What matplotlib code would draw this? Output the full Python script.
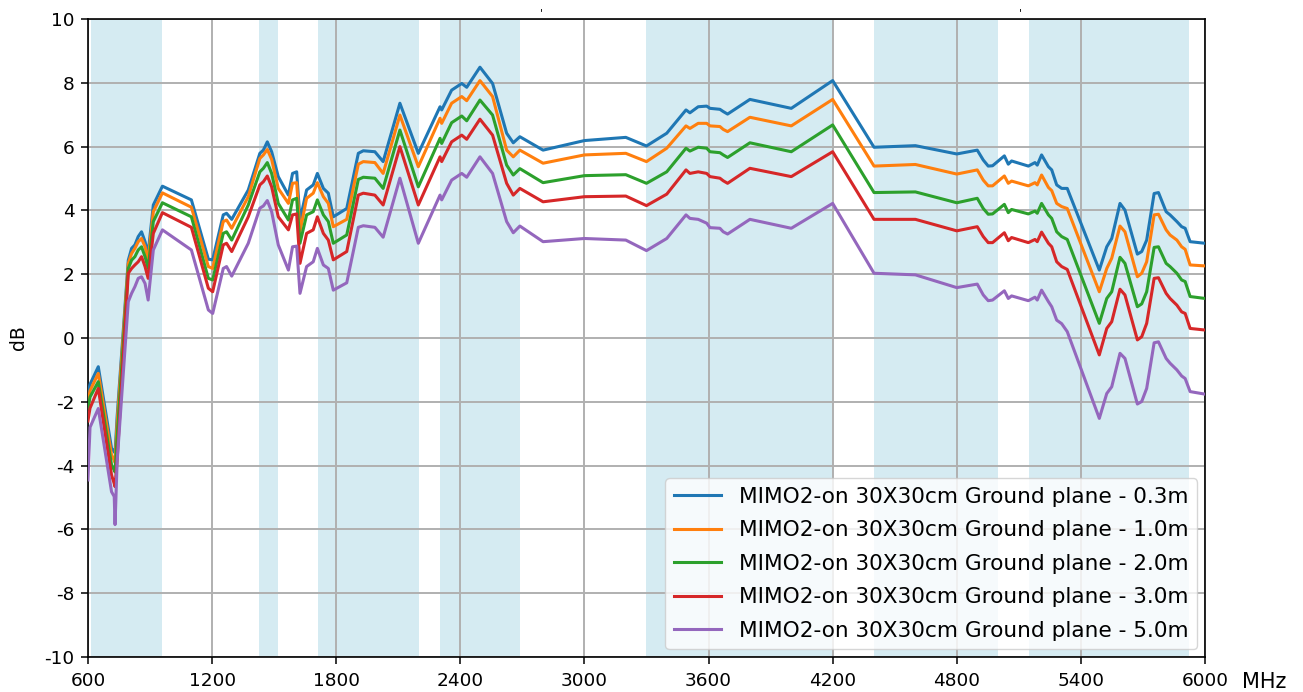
import matplotlib
matplotlib.use("Agg")
import matplotlib.pyplot as plt

plt.rcParams["axes.unicode_minus"] = False

# Frequency points (MHz)
freq = [600, 610, 650, 714, 727, 731, 741, 795, 811, 827, 843, 859, 876, 891, 916, 960,
        1100, 1182, 1203, 1254, 1270, 1295, 1375, 1431, 1448, 1467, 1488, 1520, 1569, 1589,
        1609, 1625, 1657, 1689, 1709, 1738, 1762, 1786, 1851, 1907, 1931, 1987, 2027, 2108,
        2197, 2302, 2310, 2358, 2407, 2431, 2495, 2556, 2624, 2656, 2688, 2800,
        3000, 3200, 3300, 3398, 3491, 3510, 3550, 3591, 3607, 3655, 3671, 3692, 3800, 4000, 4200,
        4400, 4600, 4800, 4899, 4928, 4952, 4973, 5030, 5049, 5065, 5146, 5178, 5189, 5210,
        5243, 5259, 5283, 5307, 5334,
        5489, 5525, 5549, 5589, 5613, 5673, 5694, 5718, 5754, 5775, 5812, 5831, 5864, 5887,
        5904, 5928, 6000]

gain_03m = [-1.75, -1.45, -0.90, -3.46, -3.56, -3.60, -2.47, 2.44, 2.81, 2.92, 3.18, 3.33, 3.02, 2.65, 4.17, 4.76,
            4.33, 2.47, 2.45, 3.86, 3.91, 3.72, 4.64, 5.79, 5.89, 6.15, 5.84, 5.06, 4.48, 5.16,
            5.21, 3.70, 4.64, 4.80, 5.16, 4.69, 4.54, 3.80, 4.06, 5.79, 5.87, 5.84, 5.53, 7.36,
            5.79, 7.25, 7.15, 7.77, 7.98, 7.86, 8.49, 7.98, 6.42, 6.12, 6.31, 5.89,
            6.19, 6.29, 6.02, 6.42, 7.15, 7.06, 7.25, 7.27, 7.20, 7.17, 7.10, 7.02, 7.48, 7.20, 8.07,
            5.98, 6.03, 5.77, 5.89, 5.58, 5.39, 5.40, 5.71, 5.45, 5.55, 5.39, 5.50, 5.42, 5.74,
            5.37, 5.27, 4.80, 4.69, 4.69,
            2.13, 2.86, 3.12, 4.22, 4.01, 2.63, 2.71, 3.07, 4.53, 4.56, 3.96, 3.86, 3.65, 3.49,
            3.44, 3.02, 2.97]

gain_10m = [-2.00, -1.65, -1.11, -3.67, -3.83, -3.90, -2.68, 2.34, 2.65, 2.81, 3.02, 3.12, 2.86, 2.44, 3.96, 4.55,
            4.10, 2.24, 2.18, 3.65, 3.70, 3.44, 4.43, 5.63, 5.74, 5.91, 5.60, 4.69, 4.22, 4.85,
            4.87, 3.33, 4.38, 4.54, 4.87, 4.43, 4.22, 3.49, 3.72, 5.45, 5.53, 5.50, 5.16, 6.99,
            5.37, 6.89, 6.73, 7.36, 7.57, 7.44, 8.07, 7.57, 5.89, 5.68, 5.89, 5.48,
            5.74, 5.79, 5.53, 5.95, 6.65, 6.57, 6.73, 6.73, 6.65, 6.63, 6.54, 6.47, 6.92, 6.65, 7.48,
            5.39, 5.44, 5.14, 5.27, 4.95, 4.77, 4.77, 5.08, 4.85, 4.92, 4.77, 4.87, 4.80, 5.11,
            4.72, 4.62, 4.22, 4.12, 4.06,
            1.45, 2.18, 2.50, 3.51, 3.33, 1.92, 2.03, 2.39, 3.86, 3.88, 3.39, 3.23, 3.07, 2.86,
            2.78, 2.29, 2.26]

gain_20m = [-2.20, -1.85, -1.37, -3.98, -4.14, -4.20, -3.09, 2.18, 2.44, 2.55, 2.76, 2.86, 2.55, 2.18, 3.65, 4.24,
            3.80, 1.87, 1.82, 3.28, 3.33, 3.07, 4.17, 5.21, 5.32, 5.50, 5.16, 4.22, 3.70, 4.33,
            4.38, 2.97, 3.86, 3.96, 4.33, 3.86, 3.65, 2.97, 3.23, 4.97, 5.04, 5.01, 4.69, 6.52,
            4.74, 6.26, 6.10, 6.75, 6.96, 6.81, 7.46, 6.99, 5.42, 5.11, 5.31, 4.87,
            5.09, 5.12, 4.85, 5.21, 5.95, 5.86, 5.98, 5.95, 5.84, 5.81, 5.74, 5.66, 6.12, 5.84, 6.68,
            4.56, 4.58, 4.24, 4.38, 4.06, 3.88, 3.89, 4.19, 3.93, 4.03, 3.89, 3.98, 3.91, 4.22,
            3.86, 3.75, 3.33, 3.18, 3.09,
            0.46, 1.24, 1.45, 2.53, 2.34, 0.98, 1.07, 1.45, 2.84, 2.86, 2.34, 2.24, 2.03, 1.82,
            1.77, 1.30, 1.24]

gain_30m = [-2.60, -2.20, -1.58, -4.30, -4.56, -4.66, -3.82, 2.03, 2.18, 2.29, 2.39, 2.55, 2.24, 1.87, 3.28, 3.93,
            3.47, 1.56, 1.45, 2.92, 2.97, 2.71, 3.80, 4.80, 4.90, 5.08, 4.74, 3.80, 3.39, 3.86,
            3.89, 2.34, 3.28, 3.39, 3.80, 3.28, 3.07, 2.45, 2.71, 4.48, 4.54, 4.48, 4.17, 6.00,
            4.17, 5.68, 5.53, 6.15, 6.36, 6.23, 6.86, 6.36, 4.85, 4.48, 4.69, 4.27,
            4.43, 4.45, 4.15, 4.51, 5.27, 5.16, 5.21, 5.16, 5.06, 5.01, 4.93, 4.85, 5.32, 5.06, 5.84,
            3.72, 3.72, 3.36, 3.49, 3.18, 2.99, 2.99, 3.30, 3.05, 3.15, 2.99, 3.09, 3.02, 3.32,
            2.97, 2.86, 2.39, 2.24, 2.15,
            -0.53, 0.30, 0.51, 1.53, 1.35, -0.06, 0.04, 0.46, 1.87, 1.89, 1.40, 1.24, 1.03, 0.82,
            0.77, 0.30, 0.25]

gain_50m = [-4.45, -2.80, -2.21, -4.82, -4.97, -5.85, -3.88, 1.14, 1.40, 1.61, 1.87, 1.92, 1.71, 1.19, 2.76, 3.39,
            2.76, 0.88, 0.77, 2.18, 2.24, 1.94, 2.97, 4.07, 4.14, 4.31, 3.96, 2.92, 2.13, 2.86,
            2.88, 1.40, 2.24, 2.39, 2.81, 2.29, 2.18, 1.50, 1.73, 3.47, 3.52, 3.47, 3.16, 5.01,
            2.97, 4.48, 4.33, 4.95, 5.16, 5.04, 5.68, 5.16, 3.65, 3.30, 3.51, 3.02,
            3.12, 3.07, 2.74, 3.12, 3.86, 3.75, 3.72, 3.60, 3.46, 3.44, 3.33, 3.26, 3.72, 3.44, 4.22,
            2.03, 1.98, 1.58, 1.69, 1.35, 1.17, 1.19, 1.48, 1.24, 1.32, 1.17, 1.28, 1.19, 1.50,
            1.14, 0.98, 0.56, 0.45, 0.20,
            -2.52, -1.74, -1.53, -0.48, -0.64, -2.07, -1.99, -1.58, -0.15, -0.12, -0.64, -0.79, -1.00, -1.19,
            -1.27, -1.68, -1.76]

series = [gain_03m, gain_10m, gain_20m, gain_30m, gain_50m]
labels = ["MIMO2-on 30X30cm Ground plane - 0.3m",
          "MIMO2-on 30X30cm Ground plane - 1.0m",
          "MIMO2-on 30X30cm Ground plane - 2.0m",
          "MIMO2-on 30X30cm Ground plane - 3.0m",
          "MIMO2-on 30X30cm Ground plane - 5.0m"]

# Cellular bands highlighted in the background (MHz)
band_lo = [617, 1427, 1710, 2300, 3300, 4400, 5150]
band_hi = [960, 1518, 2200, 2690, 4200, 5000, 5925]

x_ticks = list(range(600, 6001, 600))
y_ticks = list(range(-10, 11, 2))
top_ticks = [2794, 5106]

TICK_FS = 13.3
LEGEND_FS = 15.6

fig = plt.figure(figsize=(13.03, 6.92), dpi=100)
ax = fig.add_axes([0.0675, 0.0506, 0.8573, 0.9219])

for lo, hi in zip(band_lo, band_hi):
    ax.axvspan(lo, hi, color="#add8e6", alpha=0.5, lw=0, zorder=1)

for vals, lab in zip(series, labels):
    ax.plot(freq, vals, lw=2.2, label=lab, zorder=3)

ax.set_xlim(600, 6000)
ax.set_ylim(-10, 10)
ax.set_xticks(x_ticks)
ax.set_yticks(y_ticks)
ax.tick_params(labelsize=TICK_FS, length=4.8, width=1.1)
ax.tick_params(axis="x", pad=6.0)
ax.tick_params(axis="y", pad=5.0)
ax.grid(True, color="#b0b0b0", lw=1.4)
for sp in ax.spines.values():
    sp.set_linewidth(1.2)
ax.set_ylabel("dB", fontsize=13.5, labelpad=12)
ax.annotate("MHz", xy=(1, 0), xycoords="axes fraction", xytext=(26.5, -10.5),
            textcoords="offset points", ha="left", va="top", fontsize=15)

# Secondary top axis with two marker ticks
ax2 = ax.twiny()
ax2.set_xlim(ax.get_xlim())
ax2.set_xticks(top_ticks)
ax2.set_xticklabels(["'", "'"], fontsize=8)
ax2.tick_params(axis="x", length=0, pad=0.5)
for sp in ax2.spines.values():
    sp.set_visible(False)

leg = ax.legend(loc="lower right", fontsize=LEGEND_FS, borderaxespad=0.35,
                framealpha=0.8, handlelength=2.15, handletextpad=0.85,
                labelspacing=0.62)

fig.savefig("out.png", dpi=100)
